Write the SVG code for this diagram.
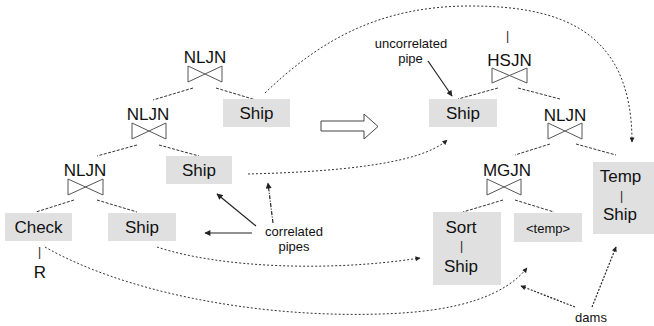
<svg xmlns="http://www.w3.org/2000/svg" width="654" height="326" viewBox="0 0 654 326">
<style>
.t{font-family:"Liberation Sans",Arial,sans-serif;font-size:17px;fill:#111;text-anchor:middle}
.s{font-family:"Liberation Sans",Arial,sans-serif;font-size:13px;fill:#111;text-anchor:middle}
.bar{font-family:"Liberation Sans",Arial,sans-serif;font-size:12px;fill:#222;text-anchor:middle}
.box{fill:#e0e0e0}
.bow{fill:none;stroke:#555;stroke-width:1}
.edge{fill:none;stroke:#333;stroke-width:1;stroke-dasharray:3 1.5}
.curve{fill:none;stroke:#333;stroke-width:1;stroke-dasharray:2 2}
.arr{fill:none;stroke:#222;stroke-width:1.2}
</style>
<defs>
<marker id="ah" viewBox="0 0 10 10" refX="9" refY="5" markerWidth="7" markerHeight="6" markerUnits="userSpaceOnUse" orient="auto">
<path d="M0,0 L10,5 L0,10 z" fill="#222"/>
</marker>
<marker id="ahs" viewBox="0 0 10 10" refX="9" refY="5" markerWidth="6" markerHeight="5" markerUnits="userSpaceOnUse" orient="auto">
<path d="M0,0 L10,5 L0,10 z" fill="#222"/>
</marker>
</defs>

<g id="connectors">
<path class="edge" d="M193,88 L153,100 M216,88 L256,100"/>
<path class="edge" d="M137,145 L97,156 M159,145 L199,156"/>
<path class="edge" d="M74,200 L36,212 M97,200 L137,212"/>
<path class="edge" d="M498,88 L458,99 M518,88 L560,99"/>
<path class="edge" d="M550,144 L515,155 M576,144 L616,155"/>
<path class="edge" d="M503,200 L463,212 M515,200 L554,212"/>
<path class="curve" d="M265,93 C320,40 380,6 470,6 C560,6 632,30 632,142" marker-end="url(#ahs)"/>
<path class="curve" d="M248,174 C330,172 420,165 447,140" marker-end="url(#ahs)"/>
<path class="curve" d="M157,247 C220,268 330,272 420,258" marker-end="url(#ahs)"/>
<path class="curve" d="M45,247 C120,290 250,318 380,314 C460,312 505,295 527,268" marker-end="url(#ahs)"/>
<path class="arr" d="M256,226 L217,194" marker-end="url(#ah)"/>
<path class="arr" d="M252,233 L205,233" marker-end="url(#ah)"/>
<path class="arr" d="M273,223 L268,183" stroke-dasharray="4 1.5 1 1.5" marker-end="url(#ah)"/>
<path class="arr" d="M428,61 L452,96" marker-end="url(#ah)"/>
<path class="arr" d="M575,307 L521,286" stroke-dasharray="2 1.5" stroke-width="1" marker-end="url(#ahs)"/>
<path class="arr" d="M592,307 L616,247" stroke-dasharray="2 1.5" stroke-width="1" marker-end="url(#ahs)"/>
</g>

<g id="transform-arrow">
<polygon points="321,121 364,121 364,114 378,126.5 364,139 364,131 321,131" fill="#fff" stroke="#444" stroke-width="1"/>
</g>

<g id="nljn-top">
<text class="t" x="205" y="63">NLJN</text>
<path class="bow" d="M188,66 L188,82 L222,66 L222,82 Z"/>
</g>
<g id="nljn-mid">
<text class="t" x="148" y="120">NLJN</text>
<path class="bow" d="M132,123 L132,139 L166,123 L166,139 Z"/>
</g>
<g id="nljn-low">
<text class="t" x="85" y="176">NLJN</text>
<path class="bow" d="M68,179 L68,195 L103,179 L103,195 Z"/>
</g>
<g id="ship-l1">
<rect class="box" x="223" y="99" width="67" height="28"/>
<text class="t" x="256.5" y="118.5">Ship</text>
</g>
<g id="ship-l2">
<rect class="box" x="166" y="156" width="66" height="28"/>
<text class="t" x="199" y="176">Ship</text>
</g>
<g id="check">
<rect class="box" x="5" y="213" width="67" height="28"/>
<text class="t" x="38.5" y="233">Check</text>
<text class="bar" x="39.5" y="255.5">|</text>
<text class="t" x="40" y="278">R</text>
</g>
<g id="ship-l3">
<rect class="box" x="108" y="213" width="68" height="28"/>
<text class="t" x="142" y="233">Ship</text>
</g>

<g id="hsjn">
<text class="bar" x="507.5" y="39.5">|</text>
<text class="t" x="509.5" y="66">HSJN</text>
<path class="bow" d="M492,68 L492,83 L527,68 L527,83 Z"/>
</g>
<g id="ship-r">
<rect class="box" x="429" y="99" width="68" height="28"/>
<text class="t" x="463" y="118.5">Ship</text>
</g>
<g id="nljn-r">
<text class="t" x="565" y="121">NLJN</text>
<path class="bow" d="M548,123 L548,139 L582,123 L582,139 Z"/>
</g>
<g id="mgjn">
<text class="t" x="507" y="176">MGJN</text>
<path class="bow" d="M487,179 L487,195 L521,179 L521,195 Z"/>
</g>
<g id="sort-ship">
<rect class="box" x="433" y="212" width="68" height="73"/>
<text class="t" x="461" y="233">Sort</text>
<text class="bar" x="461.5" y="249.5">|</text>
<text class="t" x="461" y="272">Ship</text>
</g>
<g id="temp">
<rect class="box" x="514" y="213" width="68" height="29"/>
<text class="s" x="548" y="232.5">&lt;temp&gt;</text>
</g>
<g id="temp-ship">
<rect class="box" x="593" y="162" width="61" height="72"/>
<text class="t" x="620.5" y="182">Temp</text>
<text class="bar" x="621.5" y="199.5">|</text>
<text class="t" x="620" y="220">Ship</text>
</g>

<g id="label-uncorrelated">
<text class="s" x="411" y="48">uncorrelated</text>
<text class="s" x="410.5" y="63">pipe</text>
</g>
<g id="label-correlated">
<text class="s" x="294" y="236">correlated</text>
<text class="s" x="294" y="251">pipes</text>
</g>
<g id="label-dams">
<text class="s" x="591" y="322">dams</text>
</g>
</svg>
